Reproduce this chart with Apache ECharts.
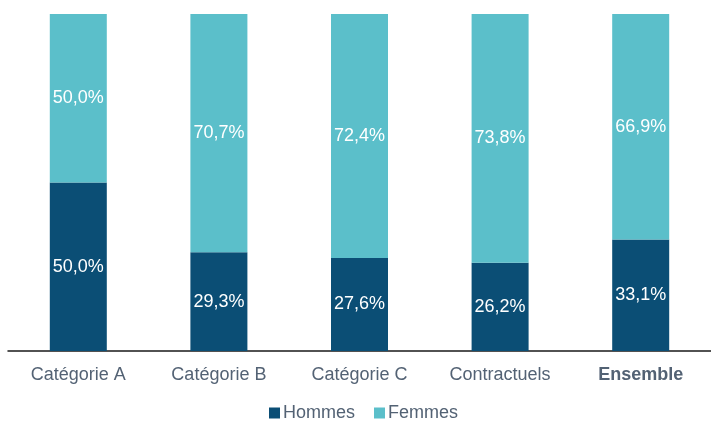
<!DOCTYPE html>
<html>
<head>
<meta charset="utf-8">
<script src="https://cdn.jsdelivr.net/npm/echarts@6/dist/echarts.min.js"></script>
<style>
  html, body { margin: 0; padding: 0; background: #fff; }
  #main { width: 711px; height: 422px; }
</style>
</head>
<body>
<div id="main"></div>
<script>
// données
var categories = ['Catégorie A', 'Catégorie B', 'Catégorie C', 'Contractuels', 'Ensemble'];
var hommes = [50.0, 29.3, 27.6, 26.2, 33.1];
var femmes = [50.0, 70.7, 72.4, 73.8, 66.9];

var textCol = '#536274';
var fmt = function (p) { return p.value.toFixed(1).replace('.', ',') + '%'; };

var chart = echarts.init(document.getElementById('main'));
chart.setOption({
  animation: false,
  textStyle: { fontFamily: 'Liberation Sans, Arial, sans-serif' },
  grid: { left: 8, width: 707, top: 14, bottom: 71, containLabel: false },
  legend: {
    bottom: -5,
    left: 264,
    itemWidth: 11,
    itemHeight: 11,
    itemGap: 19,
    icon: 'rect',
    textStyle: { color: textCol, fontSize: 18, padding: [0, 0, 0, -2] },
    data: ['Hommes', 'Femmes']
  },
  xAxis: {
    type: 'category',
    data: categories,
    axisLine: { lineStyle: { color: '#1a1a1a', width: 1.5 } },
    axisTick: { show: false },
    axisLabel: {
      color: textCol,
      fontSize: 18,
      margin: 15,
      formatter: function (v) { return v === 'Ensemble' ? '{b|' + v + '}' : v; },
      rich: { b: { fontWeight: 'bold', color: textCol, fontSize: 18 } }
    }
  },
  yAxis: {
    type: 'value',
    min: 0,
    max: 100,
    show: false,
    splitLine: { show: false }
  },
  series: [
    {
      name: 'Hommes',
      type: 'bar',
      stack: 'total',
      barWidth: 57,
      data: hommes,
      itemStyle: { color: '#0b4e75' },
      label: { show: true, position: 'inside', color: '#fff', fontSize: 18, formatter: fmt }
    },
    {
      name: 'Femmes',
      type: 'bar',
      stack: 'total',
      barWidth: 57,
      data: femmes,
      itemStyle: { color: '#5bbfca' },
      label: { show: true, position: 'inside', color: '#fff', fontSize: 18, formatter: fmt }
    }
  ]
});
</script>
</body>
</html>
